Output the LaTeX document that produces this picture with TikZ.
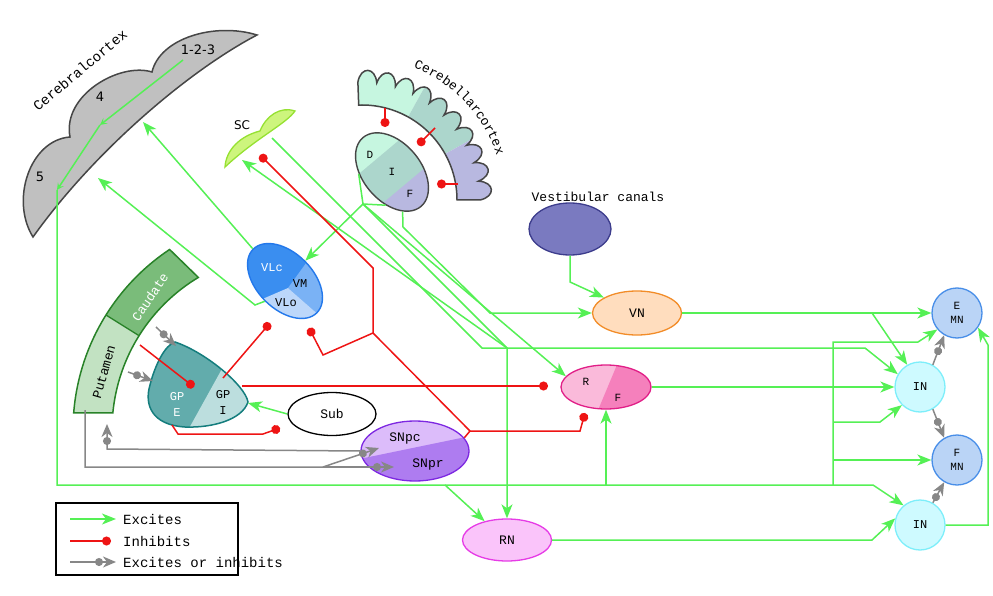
\documentclass[tikz,border=0pt]{standalone}
\usepackage{fontspec}
\usepackage{tikz}
\usetikzlibrary{arrows.meta,shapes.geometric,decorations.text}
\newfontfamily\mono{Liberation Mono}
\newfontfamily\dejavu{DejaVu Sans}
\definecolor{exgreen}{RGB}{85,240,85}
\definecolor{inred}{RGB}{238,20,20}
\definecolor{modgray}{RGB}{135,135,135}
\definecolor{darkline}{RGB}{70,70,70}
\definecolor{cortexgray}{RGB}{192,192,192}
\definecolor{scgreen}{RGB}{205,245,125}
\definecolor{scline}{RGB}{150,225,50}
\definecolor{dcol}{RGB}{198,246,224}
\definecolor{icol}{RGB}{172,214,204}
\definecolor{fcol}{RGB}{184,184,224}
\definecolor{vlc}{RGB}{58,142,240}
\definecolor{vm}{RGB}{122,178,245}
\definecolor{vlo}{RGB}{188,215,250}
\definecolor{vlline}{RGB}{35,120,235}
\definecolor{caud}{RGB}{122,188,122}
\definecolor{put}{RGB}{194,226,194}
\definecolor{strline}{RGB}{40,130,40}
\definecolor{gpe}{RGB}{98,172,172}
\definecolor{gpi}{RGB}{188,222,222}
\definecolor{gpline}{RGB}{20,125,125}
\definecolor{snpc}{RGB}{220,188,250}
\definecolor{snpr}{RGB}{174,124,240}
\definecolor{snline}{RGB}{125,40,225}
\definecolor{rcol}{RGB}{250,186,218}
\definecolor{fpink}{RGB}{245,128,188}
\definecolor{rfline}{RGB}{225,30,135}
\definecolor{rnfill}{RGB}{250,196,250}
\definecolor{rnline}{RGB}{230,60,230}
\definecolor{vnfill}{RGB}{255,221,190}
\definecolor{vnline}{RGB}{242,140,40}
\definecolor{vestfill}{RGB}{122,122,192}
\definecolor{vestline}{RGB}{60,60,140}
\definecolor{mnfill}{RGB}{186,212,246}
\definecolor{mnline}{RGB}{72,142,232}
\definecolor{infill}{RGB}{206,250,255}
\definecolor{incircle}{RGB}{125,238,250}
\tikzset{exc/.style = {draw=exgreen, line width=1.5pt, -{Stealth[length=14pt,width=11pt,inset=4pt]}}}
\tikzset{excsmall/.style = {draw=exgreen, line width=1.5pt, -{Stealth[length=7pt,width=7pt,inset=3pt,open]}}}
\tikzset{fibre/.style = {draw=exgreen, line width=1.5pt}}
\tikzset{inh/.style = {draw=inred, line width=1.5pt, -{Circle[length=9pt]}}}
\tikzset{mod/.style = {draw=modgray, line width=1.5pt, -{Circle[length=8pt] Stealth[length=13pt,width=11pt,inset=4pt]}}}
\tikzset{nucleus/.style = {shape = ellipse, draw, line width=1.3pt, inner sep=0pt, font=\mono\fontsize{13}{13}\selectfont}}
\tikzset{cell/.style = {shape = circle, draw, line width=1.3pt, minimum size=50pt, inner sep=0pt, align=center, font=\mono\fontsize{11}{14}\selectfont}}
\tikzset{lbl/.style = {inner sep=0pt, font=\mono\fontsize{12}{13}\selectfont}}

\begin{document}
\begin{tikzpicture}[x=1pt, y=-1pt]
	\useasboundingbox (0,0) rectangle (993,596);

	\filldraw[fill=cortexgray, draw=darkline, line width=1.5pt] (33,237) .. controls (10,200) and (30,140) .. (70,137) .. controls (62,95) and (120,62) .. (152,72) .. controls (160,38) and (215,22) .. (257,35) .. controls (190,70) and (95,150) .. (33,237) -- cycle;
	\node[lbl, font=\mono\fontsize{14}{14}\selectfont, rotate=40] (ctxname) at (80,70) {Cerebralcortex};
	\node[lbl, font=\dejavu\fontsize{13}{13}\selectfont] (l123) at (198,50) {1-2-3};
	\node[lbl, font=\dejavu\fontsize{13}{13}\selectfont] (l4) at (100,97) {4};
	\node[lbl, font=\dejavu\fontsize{13}{13}\selectfont] (l5) at (40,177) {5};
	\coordinate (c123) at (183,60);
	\coordinate (c4) at (100,125);
	\coordinate (c5) at (57,190);
	\coordinate (ctxa) at (143,122);
	\coordinate (ctxb) at (98,178);

	\filldraw[fill=scgreen, draw=scline, line width=1.3pt] (225,167) .. controls (226,150) and (240,136) .. (260,131) .. controls (266,116) and (280,106) .. (295,111) .. controls (286,124) and (256,138) .. (225,167) -- cycle;
	\node[lbl, font=\dejavu\fontsize{12}{12}\selectfont] (sc) at (242,125) {SC};
	\coordinate (scout) at (272,138);
	\coordinate (scin) at (242,160);

	\begin{scope}[shift={(362,200)}]
		\begin{scope}
			\clip (-92:95) -- (-92:118) \foreach \a in {-92,-82.8,...,-9.2} { .. controls (\a+1.5:134) and (\a+7.7:134) .. (\a+9.2:118) } -- (0:95) arc[start angle=0, end angle=-92, radius=95] -- cycle;
			\fill[dcol] (0,0) -- (-100:150) -- (-61:150) -- cycle;
			\fill[icol] (0,0) -- (-61:150) -- (-29:150) -- cycle;
			\fill[fcol] (0,0) -- (-29:150) -- (5:150) -- cycle;
		\end{scope}
		\draw[darkline, line width=1.5pt] (-92:95) -- (-92:118) \foreach \a in {-92,-82.8,...,-9.2} { .. controls (\a+1.5:134) and (\a+7.7:134) .. (\a+9.2:118) } -- (0:95) arc[start angle=0, end angle=-92, radius=95] -- cycle;
		\path[decorate, decoration={text along path, text align=center, text={|\mono\fontsize{13}{13}\selectfont|Cerebellarcortex}}] (-73:142) arc[start angle=-73, end angle=-14, radius=142];
	\end{scope}

	\begin{scope}
		\clip[rotate around={-50:(392,172)}] (392,172) ellipse [x radius=45, y radius=29];
		\begin{scope}[rotate around={-50:(392,172)}]
			\fill[icol] (330,120) rectangle (450,220);
			\fill[dcol] (330,120) rectangle (372,220);
			\fill[fcol] (410,120) rectangle (450,220);
		\end{scope}
	\end{scope}
	\node[ellipse, draw=darkline, line width=1.4pt, minimum width=90pt, minimum height=58pt, inner sep=0pt, rotate=-50] (dif) at (392,172) {};
	\node[lbl, font=\mono\fontsize{11}{11}\selectfont] (dl) at (370,155) {D};
	\node[lbl, font=\mono\fontsize{11}{11}\selectfont] (il) at (392,172) {I};
	\node[lbl, font=\mono\fontsize{11}{11}\selectfont] (fl) at (410,194) {F};
	\coordinate (dip) at (363,204);

	\begin{scope}
		\clip[rotate around={-45:(285,281)}] (285,281) ellipse [x radius=45, y radius=28];
		\fill[vlc] (230,230) rectangle (340,340);
		\fill[vm] (288,288) -- (330,230) -- (360,260) -- (345,338) -- cycle;
		\fill[vlo] (288,288) -- (230,313) -- (240,345) -- (345,338) -- cycle;
	\end{scope}
	\node[ellipse, draw=vlline, line width=1.4pt, minimum width=90pt, minimum height=56pt, inner sep=0pt, rotate=-45] (vl) at (285,281) {};
	\node[lbl, text=white] (vlcl) at (272,268) {VLc};
	\node[lbl] (vml) at (300,284) {VM};
	\node[lbl] (vlol) at (286,303) {VLo};

	\begin{scope}[shift={(290,430)}]
		\begin{scope}
			\clip (-175.5:217) arc[start angle=-175.5, end angle=-123.7, radius=217] -- (-121:178) arc[start angle=-121, end angle=-174.5, radius=178] -- cycle;
			\fill[caud] (0,0) -- (-115:260) -- (-150:260) -- cycle;
			\fill[put] (0,0) -- (-148:260) -- (-185:260) -- cycle;
		\end{scope}
		\draw[strline, line width=1.3pt] (-148:217) -- (-148:178);
		\draw[strline, line width=1.5pt] (-175.5:217) arc[start angle=-175.5, end angle=-123.7, radius=217] -- (-121:178) arc[start angle=-121, end angle=-174.5, radius=178] -- cycle;
	\end{scope}
	\node[lbl, text=white, font=\mono\fontsize{13}{13}\selectfont, rotate=56] (caudl) at (150,297) {Caudate};
	\node[lbl, font=\mono\fontsize{13}{13}\selectfont, rotate=74] (putl) at (104,372) {Putamen};

	\begin{scope}
		\clip (175,342) .. controls (205,352) and (245,385) .. (248,402) .. controls (242,420) and (212,428) .. (185,427) .. controls (152,425) and (144,405) .. (150,385) .. controls (155,365) and (165,345) .. (175,342) -- cycle;
		\fill[gpe] (140,330) rectangle (260,440);
		\fill[gpi] (187,432) -- (228,358) -- (262,358) -- (262,432) -- cycle;
	\end{scope}
	\draw[gpline, line width=1.5pt] (175,342) .. controls (205,352) and (245,385) .. (248,402) .. controls (242,420) and (212,428) .. (185,427) .. controls (152,425) and (144,405) .. (150,385) .. controls (155,365) and (165,345) .. (175,342) -- cycle;
	\coordinate (gp) at (248,403);
	\node[lbl, text=white, align=center, font=\mono\fontsize{12}{16}\selectfont] (gpel) at (177,404) {GP\\E};
	\node[lbl, align=center, font=\mono\fontsize{12}{16}\selectfont] (gpil) at (223,402) {GP\\I};

	\node[nucleus, minimum width=88pt, minimum height=43pt] (sub) at (332,414) {Sub};

	\begin{scope}
		\clip (415,451) ellipse [x radius=54, y radius=30];
		\fill[snpc] (355,415) rectangle (475,490);
		\fill[snpr] (340,463) -- (490,432) -- (490,490) -- (340,490) -- cycle;
	\end{scope}
	\node[nucleus, draw=snline, minimum width=108pt, minimum height=60pt] (sn) at (415,451) {};
	\node[lbl, font=\mono\fontsize{13}{13}\selectfont] (snpcl) at (405,438) {SNpc};
	\node[lbl, font=\mono\fontsize{13}{13}\selectfont] (snprl) at (428,464) {SNpr};

	\begin{scope}
		\clip (606,387) ellipse [x radius=45, y radius=22];
		\fill[rcol] (555,360) rectangle (660,415);
		\fill[fpink] (619,360) -- (596,415) -- (660,415) -- (660,360) -- cycle;
	\end{scope}
	\node[nucleus, draw=rfline, minimum width=90pt, minimum height=44pt] (rf) at (606,387) {};
	\node[lbl, font=\mono\fontsize{11}{11}\selectfont] (rl) at (586,382) {R};
	\node[lbl, font=\mono\fontsize{11}{11}\selectfont] (fpl) at (618,398) {F};

	\node[nucleus, fill=rnfill, draw=rnline, minimum width=89pt, minimum height=42pt] (rn) at (507,540) {RN};
	\node[nucleus, fill=vnfill, draw=vnline, minimum width=89pt, minimum height=44pt] (vn) at (637,313) {VN};
	\node[nucleus, fill=vestfill, draw=vestline, minimum width=82pt, minimum height=52pt] (vest) at (570,229) {};
	\node[lbl, font=\mono\fontsize{13}{13}\selectfont] (vestl) at (598,197) {Vestibular canals};

	\node[cell, fill=mnfill, draw=mnline] (emn) at (957,313) {E\\MN};
	\node[cell, fill=infill, draw=incircle, font=\mono\fontsize{12}{14}\selectfont] (in1) at (920,387) {IN};
	\node[cell, fill=mnfill, draw=mnline] (fmn) at (957,460) {F\\MN};
	\node[cell, fill=infill, draw=incircle, font=\mono\fontsize{12}{14}\selectfont] (in2) at (920,525) {IN};

	\draw[excsmall] (c123) -- (c4);
	\draw[excsmall] (c4) -- (c5);
	\draw[exc] (c5) -- (57,485) -- (873,485) -- (in2.130);
	\coordinate (h1) at (445,485);
	\coordinate (h2) at (606,485);
	\coordinate (h3) at (833,485);
	\draw[exc] (h1) -- (rn.140);
	\draw[exc] (h2) -- (rf.south);
	\draw[exc] (h3) -- (833,342) -- (918,342) -- (emn.220);
	\coordinate (v1) at (833,422);
	\coordinate (v2) at (833,460);
	\draw[exc] (v1) -- (880,422) -- (in1.225);
	\draw[exc] (v2) -- (fmn.west);

	\draw[exc] (vl.west) -- (ctxa);
	\draw[exc] (vl.south) -- (255,305) -- (ctxb);

	\coordinate (rnj) at (507,348);
	\draw[fibre] (dif.233) -- (dip) -- (dif.309);
	\draw[exc] (dip) -- (vl.north);
	\draw[exc] (dip) -- (rnj) -- (rn.north);
	\draw[exc] (rnj) -- (scin);
	\draw[exc] (dip) -- (rf.165);
	\draw[exc] (dif.335) -- (403,227) -- (490,313) -- (vn.west);
	\draw[exc] (scout) -- (482,348) -- (865,348) -- (in1.150);

	\draw[exc] (vest.south) -- (570,282) -- (vn.155);
	\draw[exc] (vn.east) -- (emn.west);
	\coordinate (vnb) at (872,313);
	\draw[exc] (vnb) -- (in1.120);
	\draw[exc] (rf.east) -- (in1.west);
	\draw[exc] (rn.east) -- (872,540) -- (in2.165);
	\draw[exc] (in2.east) -- (988,525) -- (988,345) -- (emn.-35);
	\draw[exc] (sub.west) -- (gp);

	\draw[mod] (in1.60) -- (emn.240);
	\draw[mod] (in1.-60) -- (fmn.120);
	\draw[mod] (in2.60) -- (fmn.-120);
	\draw[mod] (156,327) -- (176,346);
	\draw[mod] (128,372) -- (153,381);
	\draw[mod] (sn.west) -- (107,449) -- (107,424);
	\draw[mod] (85,410) -- (85,467) -- (323,467) -- (379,448);
	\draw[mod] (323,467) -- (394,467);

	\coordinate (snj) at (373,333);
	\coordinate (snr) at (470,431);
	\draw[draw=inred, line width=1.5pt] (sn.15) -- (snr);
	\draw[inh] (snr) -- (snj) -- (373,268) -- (260,155);
	\draw[inh] (snj) -- (323,355) -- (309,328);
	\draw[inh] (snr) -- (580,431) -- (585,413);
	\draw[inh] (242,386) -- (548,386);
	\draw[inh] (223,378) -- (270,323);
	\draw[inh] (140,345) -- (194,387);
	\draw[inh] (172,425) -- (178,434) -- (263,434) -- (280,428);
	\draw[inh] (385,108) -- (385,127);
	\draw[inh] (435,128) -- (418,145);
	\draw[inh] (458,184) -- (437,184);

	\draw[black, line width=2pt] (56,503) rectangle (238,575);
	\coordinate (lg1) at (70,519);
	\coordinate (lg2) at (70,541);
	\coordinate (lg3) at (70,562);
	\draw[exc] (lg1) -- (116,519);
	\draw[inh] (lg2) -- (111,541);
	\draw[mod] (lg3) -- (116,562);
	\node[lbl, anchor=west, font=\mono\fontsize{14}{14}\selectfont] (exl) at (123,519) {Excites};
	\node[lbl, anchor=west, font=\mono\fontsize{14}{14}\selectfont] (inl) at (123,541) {Inhibits};
	\node[lbl, anchor=west, font=\mono\fontsize{14}{14}\selectfont] (modl) at (123,562) {Excites or inhibits};
\end{tikzpicture}
\end{document}
